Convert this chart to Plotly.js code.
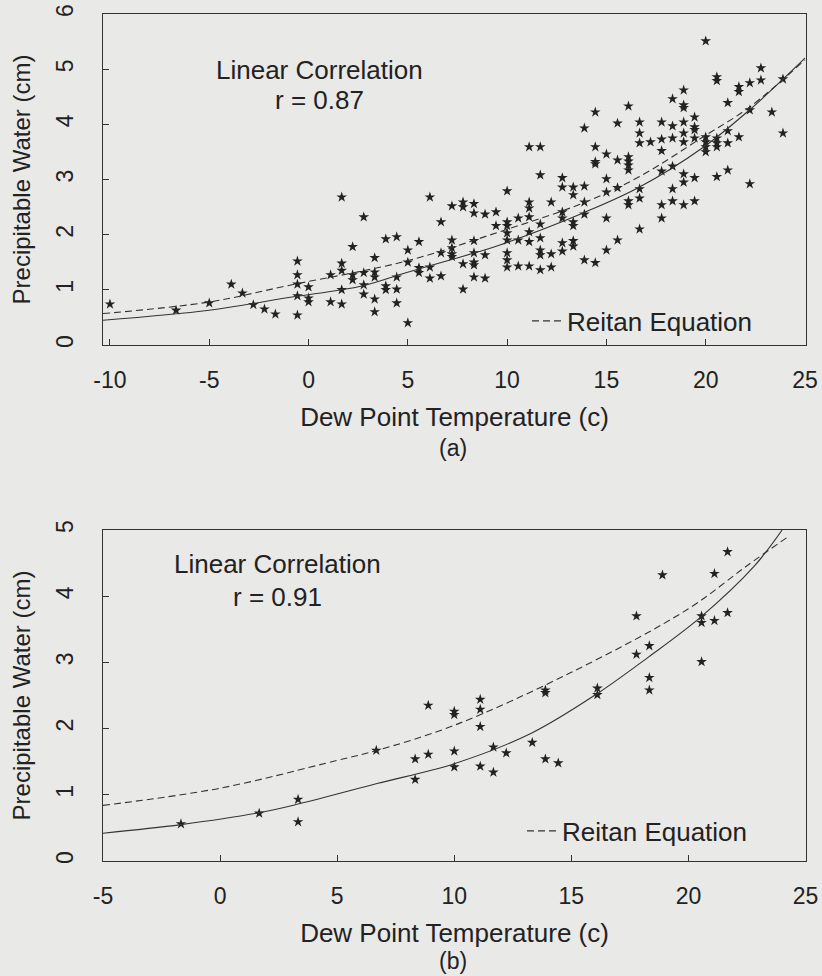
<!DOCTYPE html>
<html>
<head>
<meta charset="utf-8">
<script src="https://cdn.plot.ly/plotly-3.0.1.min.js"></script>
<style>
  html, body { margin: 0; padding: 0; background: #e9e9e7; }
  #chart { width: 822px; height: 976px; }
</style>
</head>
<body>
<div id="chart"></div>
<script>
// ---------- Panel (a): dew point temperature (C) columns and precipitable water (cm) ----------
const aTempC = [-10, -6.67, -5, -3.89, -3.33, -2.78, -2.22, -1.67, -0.56, 0, 1.11, 1.67, 2.22, 2.78,
  3.33, 3.89, 4.44, 5, 5.56, 6.11, 6.67, 7.22, 7.78, 8.33, 8.89, 9.44, 10, 10.56, 11.11, 11.67,
  12.22, 12.78, 13.33, 13.89, 14.44, 15, 15.56, 16.11, 16.67, 17.22, 17.78, 18.33, 18.89, 19.44,
  20, 20.56, 21.11, 21.67, 22.22, 22.78, 23.33, 23.89];
const aWaterCm = [
  [0.74], [0.63], [0.76], [1.10], [0.94], [0.73], [0.65], [0.56],
  [1.52, 1.27, 1.10, 0.89, 0.54],
  [1.05, 0.85, 0.78],
  [1.27, 0.78],
  [2.68, 1.48, 1.35, 1.00, 0.74],
  [1.78, 1.27, 1.18],
  [2.32, 1.31, 1.09, 0.92],
  [1.58, 1.32, 1.23, 0.83, 0.60],
  [1.92, 1.07, 1.00],
  [1.96, 1.23, 1.01, 0.76],
  [1.72, 1.50, 0.40],
  [1.87, 1.40, 1.31],
  [2.68, 1.41, 1.21],
  [2.23, 1.67, 1.25],
  [2.52, 1.90, 1.76, 1.65, 1.60],
  [2.59, 2.50, 1.47, 1.01],
  [2.56, 2.39, 1.89, 1.67, 1.50, 1.45, 1.23],
  [2.37, 1.63, 1.21],
  [2.41, 2.16],
  [2.79, 2.23, 2.16, 2.03, 1.90, 1.67, 1.54, 1.41],
  [2.30, 1.90, 1.43],
  [3.59, 2.59, 2.48, 2.32, 2.05, 1.87, 1.43],
  [3.59, 3.08, 2.19, 1.94, 1.72, 1.63, 1.36],
  [2.59, 1.65, 1.41],
  [3.03, 2.86, 2.41, 2.30, 1.85, 1.70],
  [2.86, 2.72, 2.23, 2.16, 1.89, 1.79],
  [3.93, 2.88, 2.59, 2.37, 1.54],
  [4.22, 3.59, 3.32, 3.28, 1.49],
  [3.46, 3.01, 2.77, 2.30, 1.72],
  [4.02, 3.35, 2.85, 1.90],
  [4.33, 3.41, 3.33, 3.26, 3.17, 2.61, 2.54],
  [4.04, 3.84, 3.66, 2.83, 2.66, 2.10],
  [3.68],
  [4.04, 3.73, 3.52, 3.15, 2.54, 2.30],
  [4.46, 3.97, 3.75, 3.24, 2.83, 2.61],
  [4.62, 4.35, 4.30, 4.04, 3.84, 3.68, 3.10, 2.95, 2.54],
  [4.13, 3.95, 3.90, 3.75, 3.03, 2.61],
  [5.51, 3.77, 3.68, 3.59, 3.50],
  [4.86, 4.79, 3.75, 3.66, 3.59, 3.05],
  [4.39, 3.88, 3.66, 3.17],
  [4.68, 4.59, 3.77],
  [4.75, 4.26, 2.92],
  [5.02, 4.80],
  [4.22],
  [4.82, 3.84]
];
// fitted curve (solid) and Reitan equation (dashed)
const aFitTemp = [-10.35, -5, -1, 2.7, 4.9, 7.7, 9.6, 13.8, 16.6, 19.9, 22.2, 25];
const aFitWater = [0.45, 0.63, 0.86, 1.07, 1.31, 1.60, 1.81, 2.39, 2.85, 3.59, 4.26, 5.2];
const aReitanTemp = [-10.35, -5, -1, 4.9, 9.6, 13.8, 16.6, 19.9, 22.2, 25];
const aReitanWater = [0.57, 0.78, 1.08, 1.52, 2.05, 2.57, 3.04, 3.78, 4.31, 5.17];
const aTickVals = [-10, -5, 0, 5, 10, 15, 20, 25];
const aTickText = ['-10', '-5', '0', '5', '10', '15', '20', '25'];

// ---------- Panel (b) ----------
const bTempC = [-1.67, 1.67, 3.33, 6.67, 8.33, 8.89, 10, 11.11, 11.67, 12.22, 13.33, 13.89, 14.44,
  16.11, 17.78, 18.33, 18.89, 20.56, 21.11, 21.67];
const bWaterCm = [
  [0.56], [0.72], [0.93, 0.59], [1.67], [1.54, 1.23], [2.35, 1.61], [2.26, 2.21, 1.66, 1.42],
  [2.44, 2.29, 2.03, 1.43], [1.72, 1.34], [1.63], [1.79], [2.58, 2.54, 1.54], [1.48],
  [2.61, 2.51], [3.70, 3.12], [3.25, 2.77, 2.58], [4.32], [3.70, 3.60, 3.01], [4.34, 3.63], [4.67, 3.75]
];
const bFitTemp = [-5, -1.67, 1.67, 3.33, 6.7, 10, 13.29, 16.07, 18.29, 20.51, 22.8, 24.0];
const bFitWater = [0.42, 0.55, 0.73, 0.86, 1.17, 1.47, 1.93, 2.52, 3.08, 3.68, 4.45, 5.0];
const bReitanTemp = [-5, 0, 5, 6.7, 10, 15, 20, 22.5, 24.3];
const bReitanWater = [0.84, 1.10, 1.52, 1.67, 2.05, 2.85, 3.81, 4.46, 4.91];
const bTickVals = [-5, 0, 5, 10, 15, 20, 25];
const bTickText = ['-5', '0', '5', '10', '15', '20', '25'];

// ---------- text ----------
const xTitle = 'Dew Point Temperature (c)';
const yTitle = 'Precipitable Water (cm)';
const corrLabel = 'Linear Correlation';
const rA = 'r = 0.87';
const rB = 'r = 0.91';
const reitanName = 'Reitan Equation';

function flatten(temps, waters) {
  const xs = [], ys = [];
  temps.forEach((t, i) => waters[i].forEach(w => { xs.push(t); ys.push(w); }));
  return {xs, ys};
}
const A = flatten(aTempC, aWaterCm);
const B = flatten(bTempC, bWaterCm);

const ink = '#222222';
const FONT = 'Liberation Sans, Arial, Helvetica, sans-serif';
const M = {l: 103, r: 16, t: 14, b: 115};
const W = 822, H = 976;
const plotW = W - M.l - M.r, plotH = H - M.t - M.b;
const px = v => (v - M.l) / plotW;
const py = v => (H - M.b - v) / plotH;

const star = {symbol: 'star', size: 8, color: ink, line: {width: 0}};
const traces = [
  {x: A.xs, y: A.ys, type: 'scatter', mode: 'markers', marker: star, xaxis: 'x', yaxis: 'y', showlegend: false},
  {x: aFitTemp, y: aFitWater, type: 'scatter', mode: 'lines', line: {color: '#333', width: 1.1, shape: 'spline'}, xaxis: 'x', yaxis: 'y', showlegend: false},
  {x: aReitanTemp, y: aReitanWater, type: 'scatter', mode: 'lines', name: reitanName, line: {color: '#333', width: 1.1, dash: '7px,4px', shape: 'spline'}, xaxis: 'x', yaxis: 'y', legend: 'legend'},
  {x: B.xs, y: B.ys, type: 'scatter', mode: 'markers', marker: star, xaxis: 'x2', yaxis: 'y2', showlegend: false},
  {x: bFitTemp, y: bFitWater, type: 'scatter', mode: 'lines', line: {color: '#333', width: 1.1, shape: 'spline'}, xaxis: 'x2', yaxis: 'y2', showlegend: false},
  {x: bReitanTemp, y: bReitanWater, type: 'scatter', mode: 'lines', name: reitanName, line: {color: '#333', width: 1.1, dash: '7px,4px', shape: 'spline'}, xaxis: 'x2', yaxis: 'y2', legend: 'legend2'}
];

const axisCommon = {
  showgrid: false, zeroline: false, showline: true, mirror: true,
  linecolor: '#333', linewidth: 1, ticks: 'inside', ticklen: 6, tickcolor: '#333', tickwidth: 1,
  tickfont: {family: FONT, size: 23, color: ink}
};
const xCommon = Object.assign({}, axisCommon, {
  tickmode: 'array', ticklabelstandoff: 14,
  title: {text: xTitle, font: {family: FONT, size: 26, color: ink}, standoff: 16}
});
const yCommon = Object.assign({}, axisCommon, {
  dtick: 1, tick0: 0, tickangle: -90, ticklabelstandoff: 20,
  title: {text: yTitle, font: {family: FONT, size: 24, color: ink}, standoff: 14}
});

const yTopA = 14, yBotA = 345, yTopB = 530, yBotB = 861;
const annFont = {family: FONT, size: 26, color: ink};
const ann = (text, x, y, font) => ({text, x: px(x), y: py(y), xref: 'paper', yref: 'paper', showarrow: false,
  xanchor: 'center', yanchor: 'middle', font: font || annFont});

const layout = {
  width: W, height: H,
  paper_bgcolor: '#e9e9e7', plot_bgcolor: '#e9e9e7',
  margin: M,
  font: {family: FONT, size: 23, color: ink},
  xaxis: Object.assign({}, xCommon, {domain: [0, 1], anchor: 'y', range: [-10.35, 25.05], tickvals: aTickVals, ticktext: aTickText}),
  yaxis: Object.assign({}, yCommon, {domain: [py(yBotA), 1], anchor: 'x', range: [0, 6]}),
  xaxis2: Object.assign({}, xCommon, {domain: [0, 1], anchor: 'y2', range: [-5, 25.02], tickvals: bTickVals, ticktext: bTickText}),
  yaxis2: Object.assign({}, yCommon, {domain: [0, py(yTopB)], anchor: 'x2', range: [0, 5]}),
  legend: {x: px(527), y: py(321), xanchor: 'left', yanchor: 'middle', bgcolor: 'rgba(0,0,0,0)', borderwidth: 0,
    font: annFont},
  legend2: {x: px(522), y: py(831), xanchor: 'left', yanchor: 'middle', bgcolor: 'rgba(0,0,0,0)', borderwidth: 0,
    font: annFont},
  annotations: [
    ann(corrLabel, 319, 70),
    ann(rA, 319, 100),
    ann(corrLabel, 277, 564),
    ann(rB, 277, 597),
    ann('(a)', 453, 448, {family: FONT, size: 23, color: ink}),
    ann('(b)', 453, 961, {family: FONT, size: 23, color: ink})
  ]
};

Plotly.newPlot('chart', traces, layout, {displayModeBar: false, staticPlot: true});
</script>
</body>
</html>
